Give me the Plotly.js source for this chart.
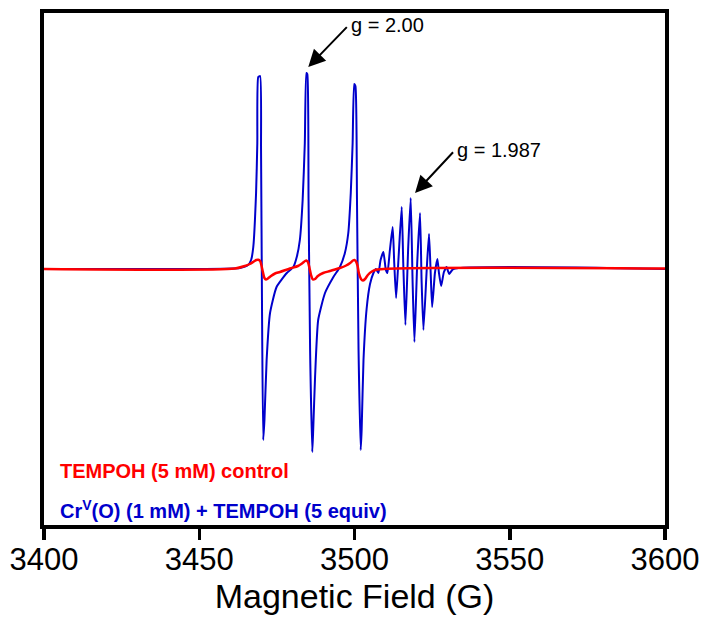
<!DOCTYPE html>
<html>
<head>
<meta charset="utf-8">
<script src="https://cdn.plot.ly/plotly-3.0.1.min.js"></script>
<style>html,body{margin:0;padding:0;background:#fff;}#chart{width:701px;height:617px;}</style>
</head>
<body>
<div id="chart"></div>
<script>
// Magnetic field (G) and EPR derivative intensity (arb. units)
var crField = [3400, 3450.2, 3463.1, 3465.7, 3466.7, 3467.4, 3468.3, 3468.7, 3469.0, 3469.6, 3469.9, 3470.2, 3470.6, 3471.0, 3471.7, 3472.8, 3474.9, 3478.2, 3480.3, 3481.4, 3482.4, 3483.3, 3484.0, 3484.5, 3484.8, 3485.2, 3485.7, 3486.4, 3486.7, 3487.3, 3488.3, 3490.5, 3493.2, 3495.3, 3496.9, 3498.0, 3498.8, 3499.4, 3499.9, 3500.3, 3500.8, 3501.3, 3502.0, 3502.3, 3502.9, 3503.9, 3505.0, 3506.1, 3506.9, 3507.7, 3508.4, 3509.3, 3510.1, 3510.6, 3511.4, 3512.3, 3512.8, 3513.4, 3514.2, 3515.2, 3515.7, 3516.4, 3517.3, 3518.1, 3518.7, 3519.3, 3520.2, 3521.1, 3521.6, 3522.2, 3523.3, 3524.0, 3524.5, 3525.0, 3525.9, 3526.7, 3527.2, 3527.9, 3528.8, 3529.7, 3530.1, 3530.5, 3531.8, 3600];
var crSignal = [0, 0, 1, 4, 9, 22, 76, 126, 192, 193, 119, -31, -171, -151, -91, -44, -18, -4, 2, 12, 29, 69, 126, 196, 195, 69, -81, -183, -161, -108, -51, -24, -8, 2, 16, 36, 76, 126, 185, 183, 69, -81, -181, -161, -91, -40, -15, -4, 0, -4, 9, 17, -1, -4, 19, 42, 6, -29, 12, 62, 6, -56, 22, 71, -11, -73, 6, 56, -11, -61, 2, 35, -1, -38, -4, 10, -4, -17, -3, 2, -2, -5, 0, 0];
var ctlField = [3400, 3461.5, 3464.7, 3466.3, 3467.6, 3468.4, 3469.0, 3469.6, 3470.0, 3470.5, 3471.0, 3471.5, 3472.1, 3473.1, 3474.4, 3476.0, 3479.2, 3481.8, 3483.1, 3484.1, 3484.5, 3485.0, 3485.5, 3486.0, 3486.6, 3487.3, 3488.2, 3489.9, 3492.1, 3495.3, 3497.3, 3498.6, 3499.5, 3500.0, 3500.5, 3501.0, 3501.4, 3502.1, 3502.7, 3503.4, 3504.3, 3505.6, 3507.2, 3600];
var ctlSignal = [0, 0.5, 3, 5, 7.5, 9, 9.2, 8, 4, -3, -9, -10.5, -9.5, -7, -4.5, -3, 0.5, 3, 5.5, 8, 8.5, 7, 1, -6, -10.5, -10, -7, -4, -2, 1, 3.5, 6, 8.5, 9, 7.5, 3, -4, -10, -11.5, -10, -6, -2.5, -0.5, 0.5];
var tickVals = [3400, 3450, 3500, 3550, 3600];
var tickText = ['3400', '3450', '3500', '3550', '3600'];
var crName = 'Cr<sup>V</sup>(O) (1 mM) + TEMPOH (5 equiv)';
var ctlName = 'TEMPOH (5 mM) control';
var gLabels = ['g = 2.00', 'g = 1.987'];

var FONT = 'Liberation Sans, Arial, Helvetica, sans-serif';
var traces = [
  {x: crField, y: crSignal, type: 'scatter', mode: 'lines', name: crName,
   line: {color: '#0000CC', width: 2, shape: 'spline', smoothing: 0.5}},
  {x: ctlField, y: ctlSignal, type: 'scatter', mode: 'lines', name: ctlName,
   line: {color: '#FF0000', width: 2.5, shape: 'spline', smoothing: 0.7}}
];
var layout = {
  width: 701, height: 617,
  margin: {l: 44, r: 36, t: 13, b: 92},
  paper_bgcolor: '#fff', plot_bgcolor: '#fff',
  showlegend: false,
  font: {family: FONT, color: '#000'},
  xaxis: {
    range: [3400, 3600], tickvals: tickVals, ticktext: tickText,
    ticks: 'outside', ticklen: 11, tickwidth: 3.5, tickcolor: '#000',
    ticklabelstandoff: -7,
    showline: true, linewidth: 4, linecolor: '#000', mirror: true,
    showgrid: false, zeroline: false,
    tickfont: {size: 31, family: FONT, color: '#000'},
    title: {text: 'Magnetic Field (G)', font: {size: 34, family: FONT, color: '#000'}, standoff: 8}
  },
  yaxis: {
    range: [-256, 256], showticklabels: false, ticks: '',
    showline: true, linewidth: 4, linecolor: '#000', mirror: true,
    showgrid: false, zeroline: false
  },
  annotations: [
    {x: 3485.1, y: 202, ax: 3498.2, ay: 244, axref: 'x', ayref: 'y', xref: 'x', yref: 'y',
     xanchor: 'left', yanchor: 'middle', startstandoff: 3,
     text: gLabels[0], font: {size: 20, family: FONT, color: '#000'},
     showarrow: true, arrowhead: 2, arrowsize: 1.7, arrowwidth: 2, arrowcolor: '#000'},
    {x: 3519.5, y: 76, ax: 3532.4, ay: 119, axref: 'x', ayref: 'y', xref: 'x', yref: 'y',
     xanchor: 'left', yanchor: 'middle', startstandoff: 3,
     text: gLabels[1], font: {size: 20, family: FONT, color: '#000'},
     showarrow: true, arrowhead: 2, arrowsize: 1.7, arrowwidth: 2, arrowcolor: '#000'},
    {x: 0.022, y: 0.106, xref: 'paper', yref: 'paper', xanchor: 'left', yanchor: 'middle', showarrow: false,
     text: ctlName, font: {size: 20, family: FONT, color: '#FF0000', weight: 'bold'}},
    {x: 0.022, y: 0.031, xref: 'paper', yref: 'paper', xanchor: 'left', yanchor: 'middle', showarrow: false,
     text: crName, font: {size: 20, family: FONT, color: '#0000CC', weight: 'bold'}}
  ]
};
Plotly.newPlot('chart', traces, layout, {displayModeBar: false, staticPlot: true});
</script>
</body>
</html>
